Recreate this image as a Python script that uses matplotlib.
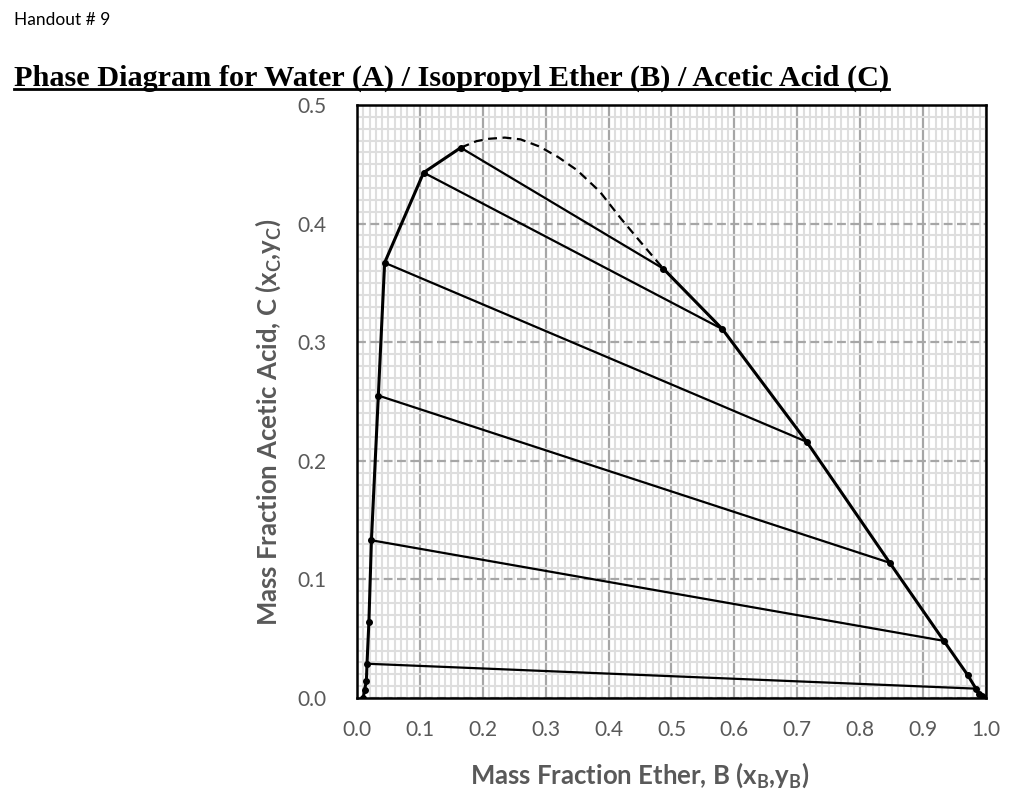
import numpy as np
import matplotlib.pyplot as plt
from matplotlib.ticker import MultipleLocator

# Raffinate (water-rich) layer: mass fractions
raff_B = [0.010, 0.012, 0.015, 0.016, 0.019, 0.023, 0.034, 0.044, 0.106, 0.165]
raff_C = [0.000, 0.0069, 0.0141, 0.0289, 0.0642, 0.133, 0.255, 0.367, 0.443, 0.464]

# Extract (ether-rich) layer
ext_B = [0.487, 0.581, 0.715, 0.847, 0.933, 0.971, 0.984, 0.989, 0.993, 0.995]
ext_C = [0.362, 0.311, 0.216, 0.114, 0.0482, 0.0193, 0.0079, 0.0037, 0.0018, 0.000]

# Estimated plait-point region (dashed)
dash_B = [0.165, 0.19, 0.21, 0.235, 0.26, 0.29, 0.32, 0.35, 0.386, 0.42, 0.45, 0.487]
dash_C = [0.464, 0.4695, 0.4715, 0.4725, 0.471, 0.465, 0.456, 0.445, 0.427, 0.404, 0.385, 0.362]

# Tie lines: (raffinate B, raffinate C, extract B, extract C)
tie_raff_B = [0.016, 0.023, 0.034, 0.044, 0.106, 0.165]
tie_raff_C = [0.0289, 0.133, 0.255, 0.367, 0.443, 0.464]
tie_ext_B = [0.984, 0.933, 0.847, 0.715, 0.581, 0.487]
tie_ext_C = [0.0079, 0.0482, 0.114, 0.216, 0.311, 0.362]

xticks = np.arange(0, 1.01, 0.1)
yticks = np.arange(0, 0.51, 0.1)

fig = plt.figure(figsize=(10.19, 8.05), dpi=100)
ax = fig.add_axes([0.3503, 0.1329, 0.6173, 0.7367])

# grid
ax.xaxis.set_minor_locator(MultipleLocator(0.01))
ax.yaxis.set_minor_locator(MultipleLocator(0.01))
ax.grid(which='minor', axis='both', color='#dedede', linewidth=1.5)
ax.grid(which='major', axis='x', color='#a6a6a6', linewidth=1.6)
ax.grid(which='major', axis='y', color='#a6a6a6', linewidth=1.6, linestyle=(0, (4, 2)))
ax.set_axisbelow(True)

for rb, rc, eb, ec in zip(tie_raff_B, tie_raff_C, tie_ext_B, tie_ext_C):
    ax.plot([rb, eb], [rc, ec], color='black', linewidth=1.6)

ax.plot(raff_B, raff_C, color='black', linewidth=2.2, marker='o', markersize=4)
ax.plot(ext_B, ext_C, color='black', linewidth=2.2, marker='o', markersize=4)
ax.plot(dash_B, dash_C, color='black', linewidth=1.6, linestyle=(0, (4, 2.5)))

ax.set_xlim(0, 1.0)
ax.set_ylim(0, 0.5)
ax.set_xticks(xticks)
ax.set_yticks(yticks)
ax.set_xticklabels([f'{v:.1f}' for v in xticks])
ax.set_yticklabels([f'{v:.1f}' for v in yticks])
ax.tick_params(which='both', length=0, labelsize=15, labelcolor='#595959')
ax.tick_params(axis='x', pad=16)
ax.tick_params(axis='y', pad=22)
for lab in ax.get_xticklabels() + ax.get_yticklabels():
    lab.set_family('Lato')

for s in ax.spines.values():
    s.set_color('black')
    s.set_linewidth(1.8)

ax.set_xlabel(r'Mass Fraction Ether, B (x$_\mathregular{B}$,y$_\mathregular{B}$)',
              fontsize=18.5, fontweight='bold', color='#595959', family='Lato')
ax.set_ylabel(r'Mass Fraction Acetic Acid, C (x$_\mathregular{C}$,y$_\mathregular{C}$)',
              fontsize=18.5, fontweight='bold', color='#595959', family='Lato')
ax.xaxis.set_label_coords(0.45, -0.104)
ax.yaxis.set_label_coords(-0.118, 0.465)

fig.text(0.014, 0.985, 'Handout # 9', fontsize=12.5, family='Lato', va='top', ha='left')
fig.text(0.014, 0.893, 'Phase Diagram for Water (A) / Isopropyl Ether (B) / Acetic Acid (C)',
         fontsize=21.8, fontweight='bold', family='Liberation Serif', va='baseline', ha='left')
fig.add_artist(plt.Line2D([0.014, 0.872], [0.889, 0.889], color='black', linewidth=2,
                          transform=fig.transFigure))

fig.savefig('out.png', dpi=100)
